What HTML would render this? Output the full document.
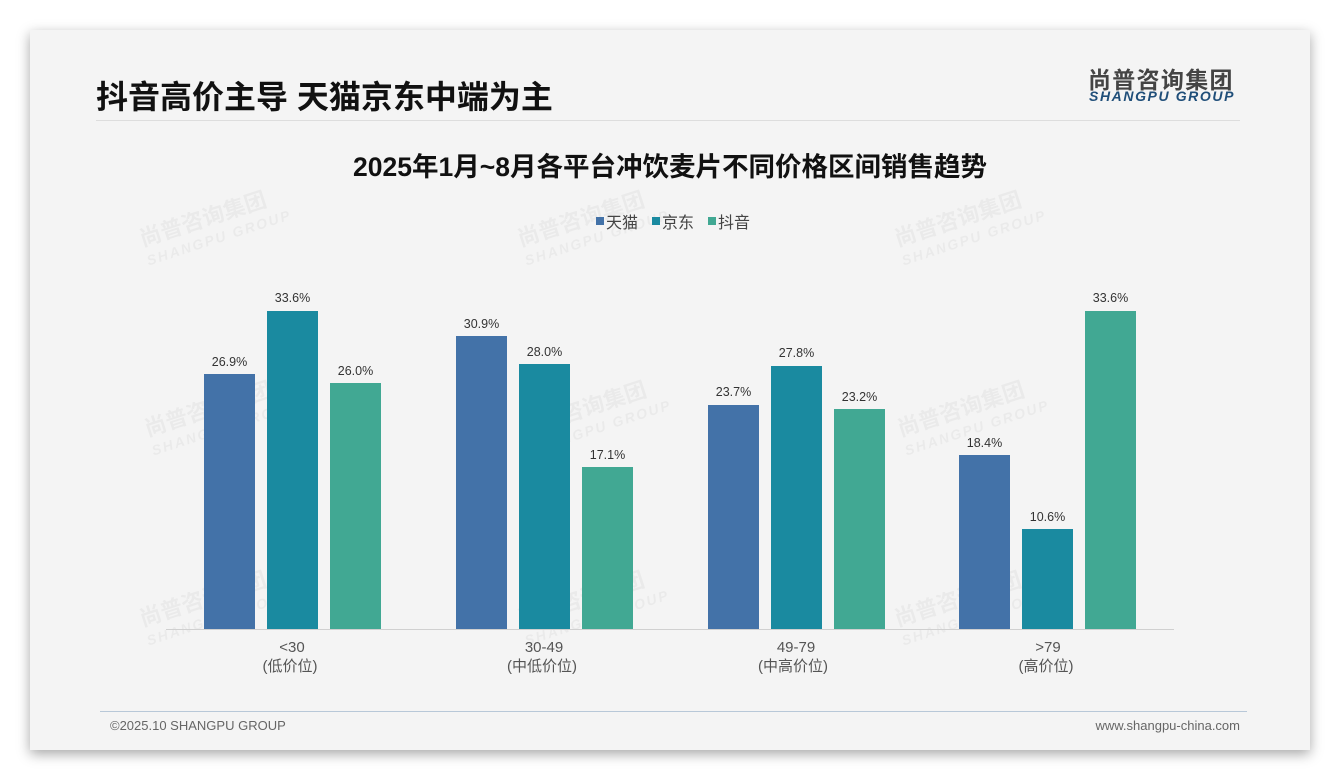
<!DOCTYPE html>
<html><head><meta charset="utf-8"><style>
body{margin:0;width:1340px;height:780px;background:#fff;position:relative;overflow:hidden;font-family:"Liberation Sans","Noto Sans CJK SC",sans-serif}
.card{position:absolute;left:30px;top:30px;width:1280px;height:720px;background:#f4f4f4;box-shadow:0 4px 12px rgba(0,0,0,.35)}
.t{position:absolute;left:96px;top:75px;font-size:32px;font-weight:bold;color:#111;line-height:44px}
.wm{position:absolute;color:rgba(0,0,0,.04);font-weight:bold;transform:rotate(-18deg);font-size:22px;line-height:22px}
.wm span{display:block;font-size:14px;letter-spacing:2px;font-style:italic}
</style></head><body>
<div class="card"></div>
<div class="t">抖音高价主导 天猫京东中端为主</div>
<div style="position:absolute;left:1088px;top:61px;font-size:23px;font-weight:bold;color:#444;letter-spacing:1.3px">尚普咨询集团</div>
<div style="position:absolute;left:1089px;top:88px;font-size:14px;font-weight:bold;font-style:italic;color:#1f4e79;letter-spacing:1.6px">SHANGPU GROUP</div>
<div style="position:absolute;left:96px;top:120px;width:1144px;height:1px;background:#ddd"></div>
<div class="wm" style="left:140px;top:205px">尚普咨询集团<span>SHANGPU GROUP</span></div>
<div class="wm" style="left:518px;top:205px">尚普咨询集团<span>SHANGPU GROUP</span></div>
<div class="wm" style="left:895px;top:205px">尚普咨询集团<span>SHANGPU GROUP</span></div>
<div class="wm" style="left:145px;top:395px">尚普咨询集团<span>SHANGPU GROUP</span></div>
<div class="wm" style="left:520px;top:395px">尚普咨询集团<span>SHANGPU GROUP</span></div>
<div class="wm" style="left:898px;top:395px">尚普咨询集团<span>SHANGPU GROUP</span></div>
<div class="wm" style="left:140px;top:585px">尚普咨询集团<span>SHANGPU GROUP</span></div>
<div class="wm" style="left:518px;top:585px">尚普咨询集团<span>SHANGPU GROUP</span></div>
<div class="wm" style="left:895px;top:585px">尚普咨询集团<span>SHANGPU GROUP</span></div>
<svg width="1340" height="780" style="position:absolute;left:0;top:0" font-family="Liberation Sans, Noto Sans CJK SC, sans-serif">
<text x="670" y="176" text-anchor="middle" font-size="26.5" font-weight="bold" fill="#111">2025年1月~8月各平台冲饮麦片不同价格区间销售趋势</text>
<rect x="596" y="217" width="8" height="8" fill="#4372a8"/><text x="606" y="228" font-size="16" fill="#444">天猫</text>
<rect x="652" y="217" width="8" height="8" fill="#1a8aa0"/><text x="662" y="228" font-size="16" fill="#444">京东</text>
<rect x="708" y="217" width="8" height="8" fill="#41a893"/><text x="718" y="228" font-size="16" fill="#444">抖音</text>
<line x1="166" y1="629.5" x2="1174" y2="629.5" stroke="#d0d0d0"/>
<g font-size="12.5" fill="#333" text-anchor="middle">
<rect x="204" y="374" width="51" height="255" fill="#4372a8"/><text x="229.5" y="366">26.9%</text>
<rect x="267" y="311" width="51" height="318" fill="#1a8aa0"/><text x="292.5" y="302">33.6%</text>
<rect x="330" y="383" width="51" height="246" fill="#41a893"/><text x="355.5" y="375">26.0%</text>
<rect x="456" y="336" width="51" height="293" fill="#4372a8"/><text x="481.5" y="328">30.9%</text>
<rect x="519" y="364" width="51" height="265" fill="#1a8aa0"/><text x="544.5" y="356">28.0%</text>
<rect x="582" y="467" width="51" height="162" fill="#41a893"/><text x="607.5" y="459">17.1%</text>
<rect x="708" y="405" width="51" height="224" fill="#4372a8"/><text x="733.5" y="396">23.7%</text>
<rect x="771" y="366" width="51" height="263" fill="#1a8aa0"/><text x="796.5" y="357">27.8%</text>
<rect x="834" y="409" width="51" height="220" fill="#41a893"/><text x="859.5" y="401">23.2%</text>
<rect x="959" y="455" width="51" height="174" fill="#4372a8"/><text x="984.5" y="447">18.4%</text>
<rect x="1022" y="529" width="51" height="100" fill="#1a8aa0"/><text x="1047.5" y="521">10.6%</text>
<rect x="1085" y="311" width="51" height="318" fill="#41a893"/><text x="1110.5" y="302">33.6%</text>
</g>
<g font-size="15" fill="#555" text-anchor="middle">
<text x="292" y="652">&lt;30</text><text x="290" y="671">(低价位)</text>
<text x="544" y="652">30-49</text><text x="542" y="671">(中低价位)</text>
<text x="796" y="652">49-79</text><text x="793" y="671">(中高价位)</text>
<text x="1048" y="652">&gt;79</text><text x="1046" y="671">(高价位)</text>
</g>
<line x1="100" y1="711.5" x2="1247" y2="711.5" stroke="#b8c8d8"/>
<text x="110" y="730" font-size="13" fill="#666">©2025.10 SHANGPU GROUP</text>
<text x="1240" y="730" font-size="13" fill="#666" text-anchor="end">www.shangpu-china.com</text>
</svg>
</body></html>
